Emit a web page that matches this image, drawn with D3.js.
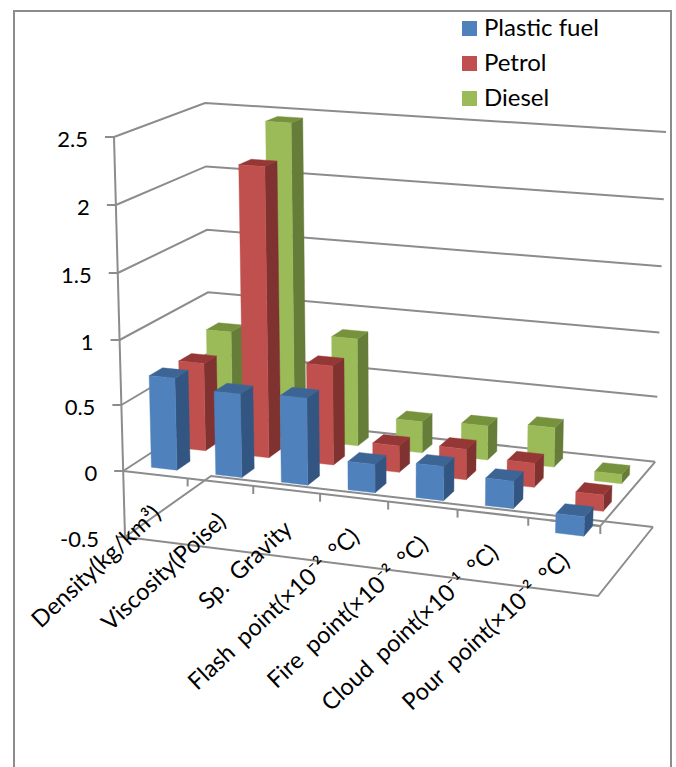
<!DOCTYPE html>
<html>
<head>
<meta charset="utf-8">
<script src="https://cdn.jsdelivr.net/npm/d3@7/dist/d3.min.js"></script>
<style>
  html, body { margin: 0; padding: 0; background: #fff; }
  svg { display: block; }
  text { font-family: Lato, "Open Sans", sans-serif; fill: #000; }
</style>
</head>
<body>
<svg id="chart" width="676" height="767"></svg>
<script>
// Fuel property comparison, drawn as a perspective 3-D clustered column chart.
const categories = ["Density(kg/km³)", "Viscosity(Poise)", "Sp. Gravity", "Flash point(×10⁻² °C)", "Fire point(×10⁻² °C)", "Cloud point(×10⁻¹ °C)", "Pour point(×10⁻² °C)"];
const seriesNames = ["Plastic fuel", "Petrol", "Diesel"];
const plasticFuel = [0.70, 0.63, 0.65, 0.21, 0.25, 0.20, -0.14];
const petrol = [0.68, 2.22, 0.76, 0.20, 0.23, 0.18, -0.12];
const diesel = [0.80, 2.46, 0.84, 0.24, 0.26, 0.30, -0.07];
const seriesValues = [plasticFuel, petrol, diesel];
const valueTicks = [-0.5, 0, 0.5, 1, 1.5, 2, 2.5];

const faceColors = [
  { front: "#4f81bd", side: "#325681", top: "#3c6595" },
  { front: "#c0504d", side: "#7f3230", top: "#953735" },
  { front: "#9bbb59", side: "#667c39", top: "#76923c" }
];
const gridColor = "#8c8c8c";

// Corners of the plot box: front-left, front-right, back-right, back-left.
const floorQuad = [[125, 537], [598, 596], [653, 527], [211, 476]];
const ceilingQuad = [[114, 137], [612, 172], [666, 132], [205, 103]];

// Projective map from the unit square onto a quadrilateral.
function squareToQuad(q) {
  const [[x0, y0], [x1, y1], [x2, y2], [x3, y3]] = q;
  const dx1 = x1 - x2, dx2 = x3 - x2, sx = x0 - x1 + x2 - x3;
  const dy1 = y1 - y2, dy2 = y3 - y2, sy = y0 - y1 + y2 - y3;
  const det = dx1 * dy2 - dx2 * dy1;
  const g = (sx * dy2 - dx2 * sy) / det;
  const h = (dx1 * sy - sx * dy1) / det;
  const a = x1 - x0 + g * x1, b = x3 - x0 + h * x3;
  const d = y1 - y0 + g * y1, e = y3 - y0 + h * y3;
  return (u, v) => {
    const w = g * u + h * v + 1;
    return [(a * u + b * v + x0) / w, (d * u + e * v + y0) / w];
  };
}
const floorMap = squareToQuad(floorQuad);
const ceilingMap = squareToQuad(ceilingQuad);

// Height fraction inside the box; the lower bands are slightly compressed by perspective.
const valueScale = d3.scaleLinear().domain(valueTicks).range([0, 0.165, 0.33, 0.4925, 0.66, 0.83, 1]);
const categoryScale = d3.scaleBand().domain(categories).range([0, 1]).paddingInner(0.6).paddingOuter(0.3);
const categoryStep = d3.scaleBand().domain(categories).range([0, 1]);
const depthScale = d3.scaleBand().domain(seriesNames).range([0, 1]).paddingInner(0.55).paddingOuter(0.3);

// (u across, v into the page, value) to screen coordinates.
function project(u, v, value) {
  const t = valueScale(value);
  const a = floorMap(u, v), b = ceilingMap(u, v);
  return [a[0] + (b[0] - a[0]) * t, a[1] + (b[1] - a[1]) * t];
}

const svg = d3.select("#chart");
const line = d3.line();

// Chart frame, open at the bottom edge of the page.
svg.append("path")
  .attr("d", line([[14, 767], [14, 11], [671, 11], [671, 767]]))
  .attr("fill", "none").attr("stroke", gridColor).attr("stroke-width", 2);

const grid = svg.append("g").attr("fill", "none").attr("stroke", gridColor).attr("stroke-width", 2);

// Wall gridlines: left wall to back wall at each value.
valueTicks.forEach(t => {
  grid.append("path").attr("d", line([project(0, 0, t), project(0, 1, t), project(1, 1, t)]));
});
// Vertical axis with its tick stubs.
grid.append("path").attr("d", line([project(0, 0, 2.5), project(0, 0, -0.5)]));
valueTicks.forEach(t => {
  const p = project(0, 0, t);
  grid.append("path").attr("d", line([[p[0] - 9, p[1]], p]));
});
// Outline of the lowest plane and of the zero plane.
grid.append("path").attr("d", line([project(0, 0, -0.5), project(1, 0, -0.5), project(1, 1, -0.5)]));
grid.append("path").attr("d", line([project(0, 0, 0), project(1, 0, 0), project(1, 1, 0)]));
// Category tick marks hanging from the zero line.
d3.range(1, categories.length + 1).forEach(i => {
  const p = project(i / categories.length, 0, 0);
  grid.append("path").attr("d", line([p, [p[0], p[1] + 8]]));
});

// Columns, painted back row first so nearer ones cover farther ones.
const bars = svg.append("g");
[2, 1, 0].forEach(s => {
  categories.forEach((c, i) => {
    const v = seriesValues[s][i];
    const u0 = categoryScale(c), u1 = u0 + categoryScale.bandwidth();
    const v0 = depthScale(seriesNames[s]), v1 = v0 + depthScale.bandwidth();
    const hi = Math.max(v, 0), lo = Math.min(v, 0);
    const col = faceColors[s];
    const face = (pts, fill) => bars.append("path")
      .attr("d", line(pts) + "Z")
      .attr("fill", fill).attr("stroke", fill).attr("stroke-width", 0.4);
    face([project(u1, v0, lo), project(u1, v1, lo), project(u1, v1, hi), project(u1, v0, hi)], col.side);
    face([project(u0, v0, hi), project(u1, v0, hi), project(u1, v1, hi), project(u0, v1, hi)], col.top);
    face([project(u0, v0, lo), project(u1, v0, lo), project(u1, v0, hi), project(u0, v0, hi)], col.front);
  });
});

// The pour-point column sits under the front zero line, which stays visible across it.
const pourFront = project(1, 0, 0);
grid.append("path").attr("d", line([project(categoryScale(categories[6]), 0, 0), pourFront]));

// Value labels to the left of the axis.
svg.append("g").selectAll("text").data(valueTicks).join("text")
  .attr("x", d => project(0, 0, d)[0] - 26)
  .attr("y", d => project(0, 0, d)[1] + 10)
  .attr("text-anchor", "end")
  .attr("font-size", 22)
  .text(d => d);

// Slanted category labels ending just below the front edge.
svg.append("g").selectAll("text").data(categories).join("text")
  .attr("text-anchor", "end")
  .attr("font-size", 23.5)
  .attr("word-spacing", 5)
  .attr("transform", (d, i) => {
    const p = project(categoryStep(d) + categoryStep.bandwidth() / 2, 0, 0);
    return `translate(${p[0] + 7},${p[1] + 41}) rotate(-43)`;
  })
  .text(d => d);

// Legend in the upper right corner.
const legend = svg.append("g").selectAll("g").data(seriesNames).join("g")
  .attr("transform", (d, i) => `translate(462,${21 + i * 35})`);
legend.append("rect").attr("width", 15).attr("height", 15).attr("fill", (d, i) => faceColors[i].front);
legend.append("text").attr("x", 22).attr("y", 15).attr("font-size", 24).text(d => d);
</script>
</body>
</html>
